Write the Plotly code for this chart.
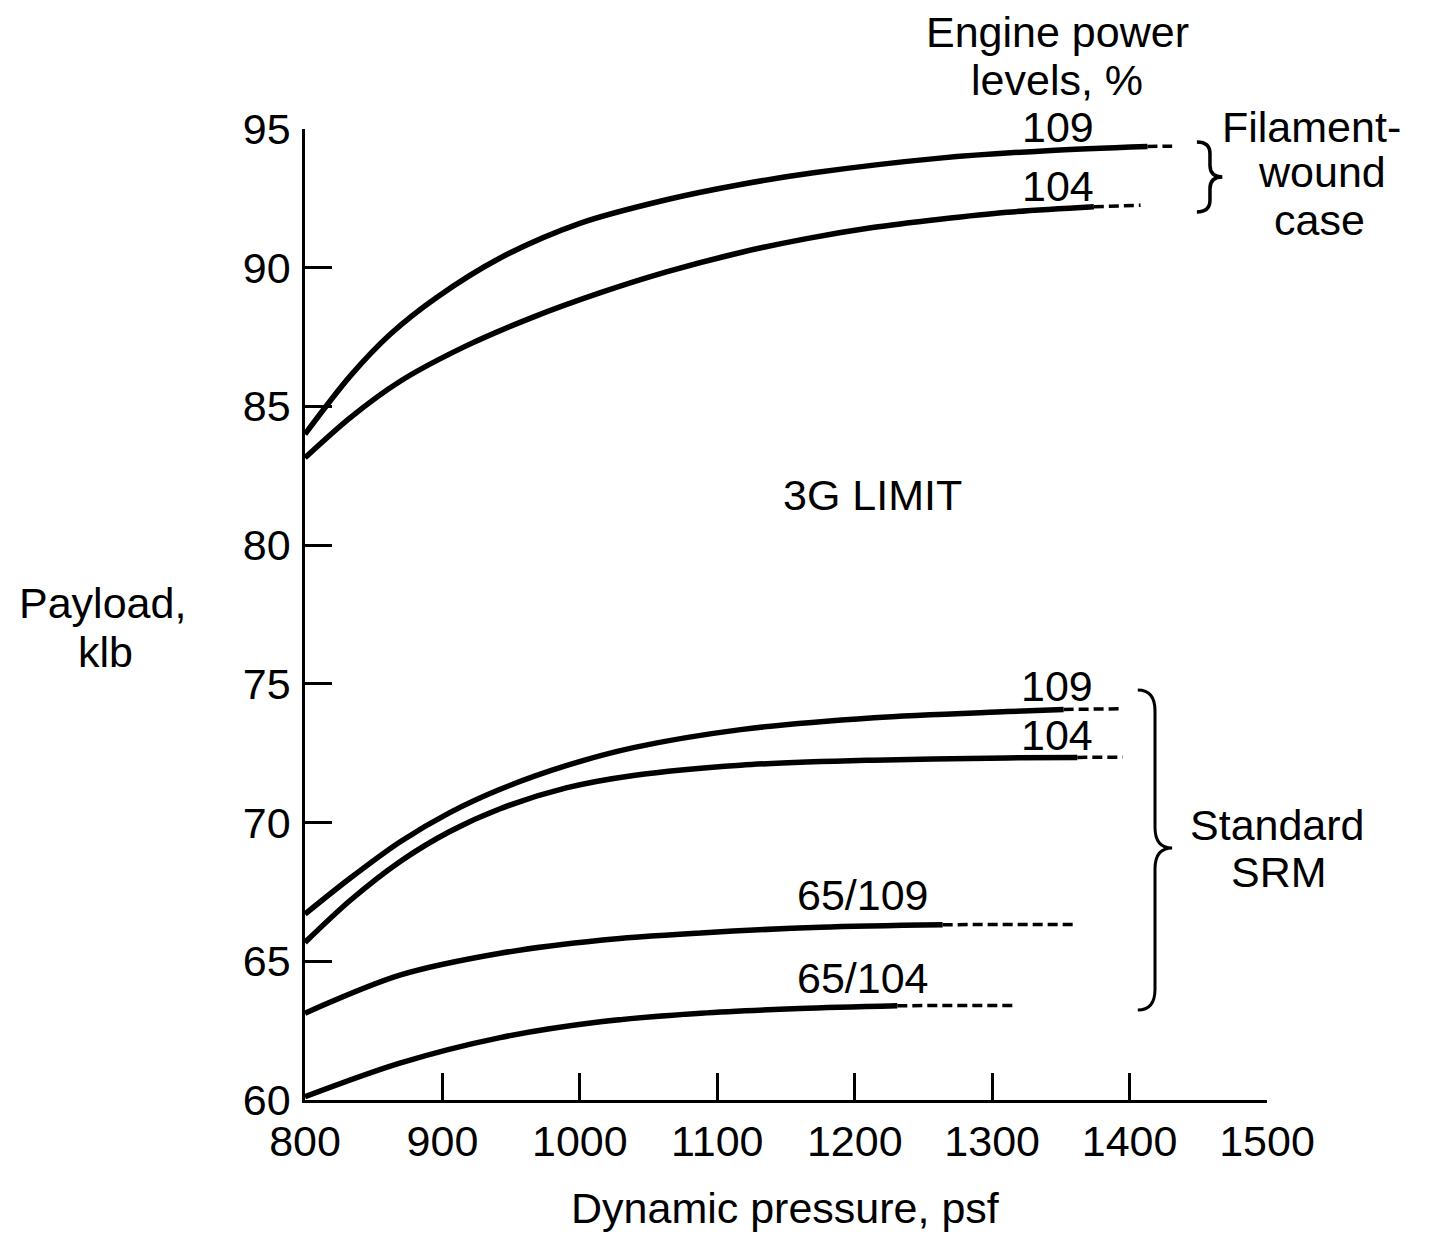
import plotly.graph_objects as go

# ---- data ----
fw109_x = [800, 833, 862, 895, 942, 1000, 1063, 1117, 1170, 1262, 1340, 1413]
fw109_y = [84.0, 86.1, 87.6, 88.9, 90.35, 91.6, 92.45, 93.0, 93.42, 93.95, 94.22, 94.37]
fw109_dx = [1413, 1431]
fw109_dy = [94.37, 94.38]

fw104_x = [800, 833, 869, 918, 966, 1015, 1063, 1117, 1165, 1213, 1262, 1311, 1374]
fw104_y = [83.15, 84.6, 85.9, 87.2, 88.22, 89.1, 89.85, 90.55, 91.05, 91.45, 91.75, 92.0, 92.2]
fw104_dx = [1374, 1408]
fw104_dy = [92.2, 92.25]

srm109_x = [800, 833, 869, 905, 942, 990, 1039, 1117, 1214, 1311, 1352]
srm109_y = [66.7, 68.0, 69.3, 70.35, 71.2, 72.05, 72.7, 73.35, 73.78, 74.0, 74.08]
srm109_dx = [1352, 1395]
srm109_dy = [74.08, 74.1]

srm104_x = [800, 833, 869, 905, 942, 990, 1039, 1117, 1214, 1311, 1362]
srm104_y = [65.68, 67.2, 68.59, 69.67, 70.5, 71.25, 71.7, 72.07, 72.25, 72.33, 72.35]
srm104_dx = [1362, 1395]
srm104_dy = [72.35, 72.36]

s65_109_x = [800, 869, 942, 1015, 1088, 1175, 1264]
s65_109_y = [63.13, 64.5, 65.29, 65.76, 66.02, 66.23, 66.32]
s65_109_dx = [1264, 1359]
s65_109_dy = [66.32, 66.33]

s65_104_x = [800, 869, 942, 1015, 1088, 1160, 1231]
s65_104_y = [60.12, 61.33, 62.25, 62.82, 63.13, 63.3, 63.4]
s65_104_dx = [1231, 1318]
s65_104_dy = [63.4, 63.41]

x_ticks = [800, 900, 1000, 1100, 1200, 1300, 1400, 1500]
y_ticks = [60, 65, 70, 75, 80, 85, 90, 95]

FONT = "Liberation Sans, Arial, Helvetica, sans-serif"
FS = 43

fig = go.Figure()

solid = [(fw109_x, fw109_y), (fw104_x, fw104_y), (srm109_x, srm109_y),
         (srm104_x, srm104_y), (s65_109_x, s65_109_y), (s65_104_x, s65_104_y)]
dashed = [(fw109_dx, fw109_dy), (fw104_dx, fw104_dy), (srm109_dx, srm109_dy),
          (srm104_dx, srm104_dy), (s65_109_dx, s65_109_dy), (s65_104_dx, s65_104_dy)]

for xs, ys in solid:
    fig.add_trace(go.Scatter(x=xs, y=ys, mode="lines",
                             line=dict(color="black", width=5.5, shape="spline", smoothing=0.9),
                             showlegend=False, hoverinfo="skip", cliponaxis=False))
for xs, ys in dashed:
    fig.add_trace(go.Scatter(x=xs, y=ys, mode="lines",
                             line=dict(color="black", width=3.5, dash="10px,5px"),
                             showlegend=False, hoverinfo="skip", cliponaxis=False))


def brace(x0, xm, xt, ytop, ytip, ybot, ry):
    return (f"M {x0},{ytop} Q {xm},{ytop} {xm},{ytop - ry} "
            f"L {xm},{ytip + ry} Q {xm},{ytip} {xt},{ytip} "
            f"Q {xm},{ytip} {xm},{ytip - ry} "
            f"L {xm},{ybot + ry} Q {xm},{ybot} {x0},{ybot}")


fig.add_shape(type="path", xref="x", yref="y",
              path=brace(1449, 1458.5, 1467.5, 94.53, 93.27, 92.01, 0.42),
              line=dict(color="black", width=3.5))
fig.add_shape(type="path", xref="x", yref="y",
              path=brace(1406, 1418.5, 1431, 74.78, 69.08, 63.24, 0.75),
              line=dict(color="black", width=3))

# labels inside the plotting range (data coordinates)
data_annos = [
    ("104", 1348, 92.95),
    ("3G LIMIT", 1213, 81.81),
    ("109", 1347, 74.92),
    ("104", 1347, 73.16),
    ("65/109", 1206, 67.39),
    ("65/104", 1206, 64.40),
]
for text, ax, ay in data_annos:
    fig.add_annotation(x=ax, y=ay, xref="x", yref="y", text=text, showarrow=False,
                       xanchor="center", yanchor="middle",
                       font=dict(family=FONT, size=FS, color="black"))

# labels outside the plotting range (paper coordinates), one line each
paper_annos = [
    ("Engine power", 0.7827, 1.0999),
    ("levels, %", 0.7817, 1.0505),
    ("109", 0.7827, 1.0021),
    ("Filament-", 1.0458, 1.0021),
    ("wound", 1.0572, 0.9557),
    ("case", 1.055, 0.9063),
    ("Standard", 1.0104, 0.2832),
    ("SRM", 1.0125, 0.2348),
    ("Payload,", -0.21, 0.5118),
    ("klb", -0.2079, 0.4614),
    ("Dynamic pressure, psf", 0.499, -0.1112),
]
for text, ax, ay in paper_annos:
    fig.add_annotation(x=ax, y=ay, xref="paper", yref="paper", text=text, showarrow=False,
                       xanchor="center", yanchor="middle",
                       font=dict(family=FONT, size=FS, color="black"))

axis_common = dict(showgrid=False, zeroline=False, showline=True, linecolor="black",
                   linewidth=2.5, ticks="inside", ticklen=27, tickwidth=2.5,
                   tickcolor="black",
                   tickfont=dict(family=FONT, size=FS, color="black"))

fig.update_xaxes(range=[800, 1500], tickvals=x_ticks, ticktext=[str(v) for v in x_ticks],
                 ticklabelstandoff=2, **axis_common)
fig.update_yaxes(range=[60, 95], tickvals=y_ticks, ticktext=[str(v) for v in y_ticks],
                 ticklabelstandoff=3, **axis_common)

fig.update_layout(width=1431, height=1236, autosize=False,
                  margin=dict(l=297, r=172, t=121, b=144, pad=0),
                  plot_bgcolor="white", paper_bgcolor="white",
                  font=dict(family=FONT, size=FS, color="black"))

fig.write_html("out.html")
